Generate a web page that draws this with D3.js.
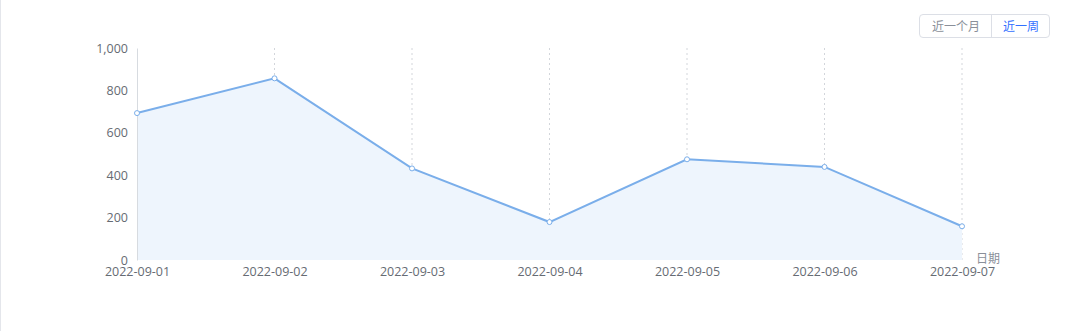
<!DOCTYPE html>
<html>
<head>
<meta charset="utf-8">
<script src="https://cdn.jsdelivr.net/npm/d3@7"></script>
<style>
  html, body { margin: 0; padding: 0; background: #fff; }
  body { width: 1080px; height: 331px; overflow: hidden; position: relative;
         font-family: "Noto Sans CJK SC", "Open Sans", sans-serif; }
  .frame { position: absolute; left: 0; top: 0; width: 1px; height: 331px; background: #e4e6eb; }
  .btns { position: absolute; left: 919px; top: 14px; height: 22px; display: flex;
          border: 1px solid #dcdfe6; border-radius: 4px; font-size: 12px; }
  .btns span { display: block; line-height: 22px; padding: 0 11px 0 12px; color: #8a8f99; }
  .btns span + span { border-left: 1px solid #dcdfe6; color: #3370ff; padding: 0 10px 0 11px; }
  .tick text { fill: #666b73; font-size: 12.5px; font-family: "Open Sans", "Noto Sans", sans-serif; }
</style>
</head>
<body>
<div class="frame"></div>
<div class="btns"><span>近一个月</span><span>近一周</span></div>
<div id="chart"></div>
<script>
(function(){

var dates = ["2022-09-01", "2022-09-02", "2022-09-03", "2022-09-04", "2022-09-05", "2022-09-06", "2022-09-07"];
var counts = [693, 857, 432, 179, 475, 439, 159];
var yTicks = [0, 200, 400, 600, 800, 1000];

var margin = {top: 48, right: 118, bottom: 71, left: 137},
    width = 1080 - margin.left - margin.right,
    height = 331 - margin.top - margin.bottom;

var data = dates.map(function(d, i) { return {date: d, value: counts[i]}; });

var x = d3.scalePoint().domain(dates).range([0, width]);
var y = d3.scaleLinear().domain([0, 1000]).range([height, 0]);

var svg = d3.select("#chart").append("svg")
    .attr("width", 1080)
    .attr("height", 331)
    .style("position", "absolute")
    .style("left", 0).style("top", 0)
  .append("g")
    .attr("transform", "translate(" + margin.left + "," + margin.top + ")");

// dashed vertical grid lines
svg.selectAll(".vgrid")
    .data(dates.slice(1))
  .enter().append("line")
    .attr("class", "vgrid")
    .attr("x1", function(d) { return x(d); })
    .attr("x2", function(d) { return x(d); })
    .attr("y1", 0)
    .attr("y2", height)
    .style("stroke", "#d3d6db")
    .style("stroke-dasharray", "2,3");

var area = d3.area()
    .x(function(d) { return x(d.date); })
    .y0(height)
    .y1(function(d) { return y(d.value); });

var line = d3.line()
    .x(function(d) { return x(d.date); })
    .y(function(d) { return y(d.value); });

svg.append("path")
    .attr("d", area(data))
    .style("fill", "#eef5fd");

// y axis
var yAxis = d3.axisLeft(y).tickValues(yTicks).tickSize(0).tickPadding(9).tickFormat(d3.format(","));
var gy = svg.append("g").call(yAxis);
gy.select(".domain").style("stroke", "#d7dbe0");

// x axis
var xAxis = d3.axisBottom(x).tickSize(0).tickPadding(7);
var gx = svg.append("g")
    .attr("transform", "translate(0," + height + ")")
    .call(xAxis);
gx.select(".domain").remove();

svg.append("path")
    .attr("d", line(data))
    .style("fill", "none")
    .style("stroke", "#7aaeea")
    .style("stroke-width", 2);

svg.selectAll(".pt")
    .data(data)
  .enter().append("circle")
    .attr("class", "pt")
    .attr("cx", function(d) { return x(d.date); })
    .attr("cy", function(d) { return y(d.value); })
    .attr("r", 2.5)
    .style("fill", "#fff")
    .style("stroke", "#7aaeea")
    .style("stroke-width", 1);

svg.append("text")
    .attr("x", width + 14)
    .attr("y", height + 3)
    .style("fill", "#8a8f99")
    .style("font-size", "12px")
    .text("日期");

})();
</script>
</body>
</html>
